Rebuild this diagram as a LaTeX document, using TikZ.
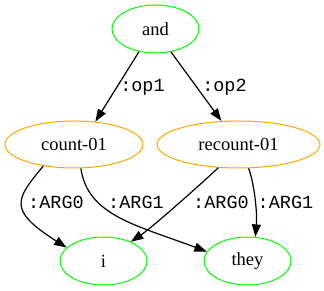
\documentclass[tikz,border=0pt]{standalone}
\usepackage{fontspec}
\setmainfont{Liberation Serif}
\setmonofont{Liberation Mono}
\usetikzlibrary{arrows.meta,shapes.geometric}

\definecolor{frameorange}{RGB}{255,165,0}

\begin{document}
\begin{tikzpicture}[x = 1pt, y = 1pt,
      concept/.style = {ellipse, draw, line width = 1pt, inner sep = 0pt,
      font = \fontsize{18.5}{20}\selectfont},
      leaf/.style = {concept, draw = green, minimum width = 87pt, minimum height = 48pt},
      frame/.style = {concept, draw = frameorange, minimum height = 47pt},
      role/.style = {-{Triangle[length = 12.5pt, width = 9pt]}, line width = 1.2pt},
      rolelabel/.style = {font = \ttfamily\fontsize{18.5}{20}\selectfont}]
      \useasboundingbox (0,0) rectangle (324,291);
      % concepts
      \node[leaf] (and) at (155.5,262) {and};
      \node[frame, minimum width = 138pt] (count) at (74,146.5) {count-01};
      \node[frame, minimum width = 163pt] (recount) at (238.5,146.5) {recount-01};
      \node[leaf] (i) at (103.5,30) {i};
      \node[leaf] (they) at (247.5,30) {they};
      % relations
      \draw[role] (and.234) -- (count.47);
      \draw[role] (and.304) -- (recount.126);
      \draw[role] (count.215) .. controls +(-27,-33) and +(-60,38) .. (i.160);
      \draw[role] (count.286) .. controls +(7,-47) and +(-72,27) .. (they.167);
      \draw[role] (recount.229) .. controls +(-17,-16) and +(22,15) .. (i.35);
      \draw[role] (recount.293) .. controls +(6,-16) and +(2,23) .. (they.72);
      % role names
      \node[rolelabel] (op1) at (142.5,204) {:op1};
      \node[rolelabel] (op2) at (224.5,204) {:op2};
      \node[rolelabel] (arg0a) at (56,89) {:ARG0};
      \node[rolelabel] (arg1a) at (136,89) {:ARG1};
      \node[rolelabel] (arg0b) at (221,89) {:ARG0};
      \node[rolelabel] (arg1b) at (285.5,89) {:ARG1};
\end{tikzpicture}
\end{document}
